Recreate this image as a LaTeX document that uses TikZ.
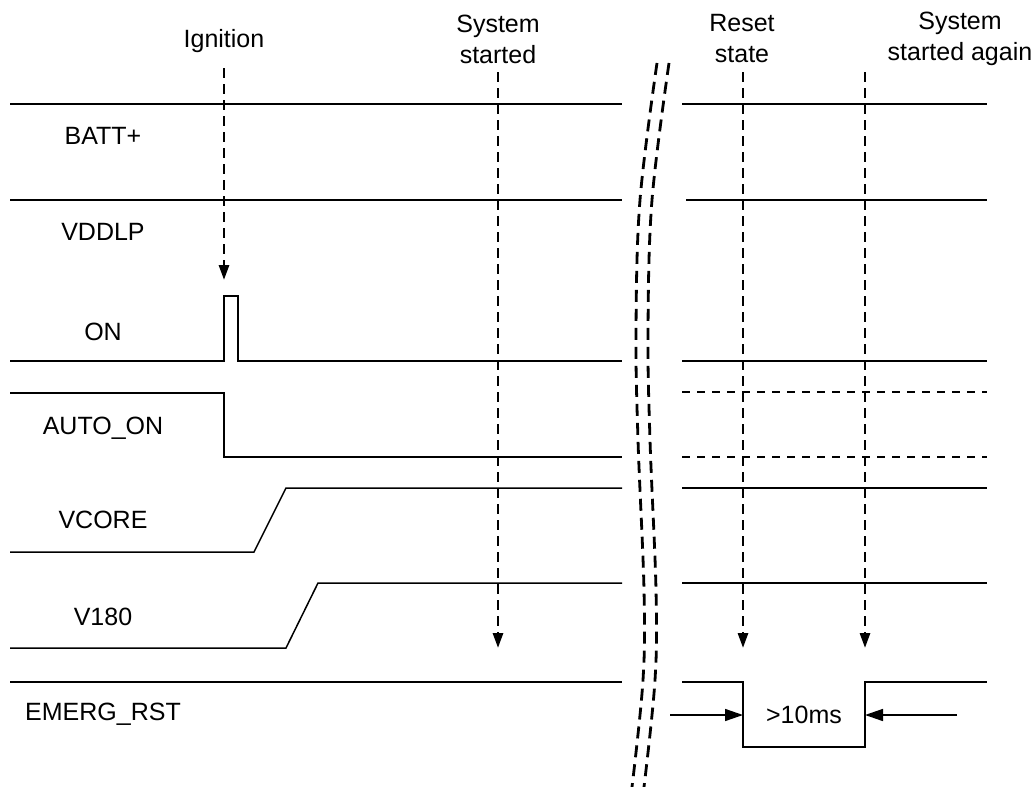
\documentclass[tikz,border=0pt]{standalone}
\usepackage{fontspec}
\setmainfont{Liberation Sans}
\usetikzlibrary{arrows.meta}
\begin{document}
\begin{tikzpicture}[x=1pt,y=-1pt,
  sig/.style={line width=1.5pt, line join=miter},
  dsig/.style={line width=2.8pt, dash pattern=on 8pt off 7pt},
  marker/.style={line width=2.8pt, dash pattern=on 10pt off 6pt, -{Triangle[length=15pt,width=10pt]}},
  brk/.style={line width=2.8pt, dash pattern=on 12pt off 7pt},
  meas/.style={line width=1.5pt, -{Triangle[length=18pt,width=12pt]}},
  lbl/.style={font=\fontsize{25}{31}\selectfont, align=center, inner sep=0pt},
]
\useasboundingbox (0,0) rectangle (1036,787);
\fill[white] (0,0) rectangle (1036,787);

% signal names
\node[lbl] (nbatt) at (103,136) {BATT+};
\node[lbl] (nvdd) at (103,232) {VDDLP};
\node[lbl] (non) at (103,332) {ON};
\node[lbl] (nauto) at (103,428) {AUTO\_ON};
\node[lbl] (nvcore) at (103,520) {VCORE};
\node[lbl] (nv180) at (103,617) {V180};
\node[lbl] (nemerg) at (103,714) {EMERG\_RST};

% event labels
\node[lbl] (eign) at (224,41) {Ignition};
\node[lbl] (esys) at (498,39) {System\\started};
\node[lbl] (ereset) at (742,39) {Reset\\state};
\node[lbl] (eagain) at (960,39) {System\\started again};

% left part of waveforms
\draw[sig] (10,104) -- (622,104);
\draw[sig] (10,200) -- (622,200);
\draw[sig] (10,361) -- (224,361) -- (224,296) -- (238,296) -- (238,361) -- (622,361);
\draw[sig] (10,393) -- (224,393) -- (224,457) -- (622,457);
\draw[sig] (10,552) -- (254,552) -- (286,488) -- (622,488);
\draw[sig] (10,648) -- (286,648) -- (318,583) -- (622,583);
\draw[sig] (10,682) -- (622,682);

% right part of waveforms
\draw[sig] (682,104) -- (987,104);
\draw[sig] (686,200) -- (987,200);
\draw[sig] (682,361) -- (987,361);
\draw[dsig] (682,392) -- (987,392);
\draw[dsig] (682,457) -- (987,457);
\draw[sig] (682,488) -- (987,488);
\draw[sig] (682,583) -- (987,583);
\draw[sig] (682,682) -- (743,682) -- (743,747) -- (865,747) -- (865,682) -- (987,682);

% break marks
\draw[brk] plot[smooth, tension=0.6] coordinates {(657,63) (640,200) (636,330) (638,440) (644,590) (643,680) (632,787)};
\draw[brk] plot[smooth, tension=0.6] coordinates {(669,63) (652,200) (648,330) (650,440) (656,590) (655,680) (644,787)};

% event markers
\coordinate (ign0) at (224,68);
\coordinate (ign1) at (224,280);
\coordinate (sys0) at (498,72);
\coordinate (sys1) at (498,648);
\coordinate (rst0) at (743,72);
\coordinate (rst1) at (743,648);
\coordinate (agn0) at (865,72);
\coordinate (agn1) at (865,648);
\draw[marker] (ign0) -- (ign1);
\draw[marker] (sys0) -- (sys1);
\draw[marker] (rst0) -- (rst1);
\draw[marker] (agn0) -- (agn1);

% duration
\coordinate (ml0) at (670,715);
\coordinate (ml1) at (743,715);
\coordinate (mr0) at (957,715);
\coordinate (mr1) at (865,715);
\draw[meas] (ml0) -- (ml1);
\draw[meas] (mr0) -- (mr1);
\node[lbl] (dur) at (804,715) {>10ms};
\end{tikzpicture}
\end{document}
